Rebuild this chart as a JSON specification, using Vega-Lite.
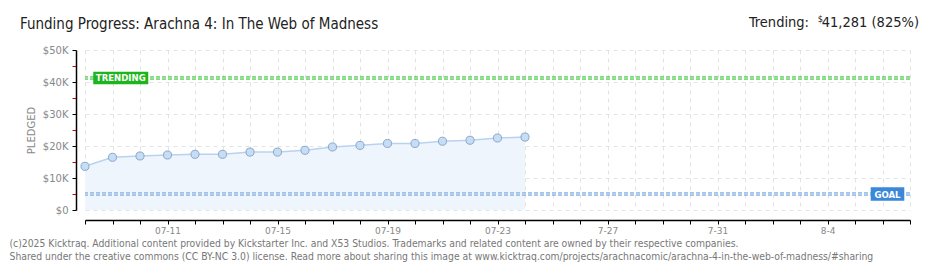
{
  "$schema": "https://vega.github.io/schema/vega-lite/v6.json",
  "width": 825,
  "height": 160,
  "autosize": {"type": "none"},
  "padding": {"left": 85, "top": 50, "right": 30, "bottom": 60},
  "background": "white",
  "config": {"view": {"stroke": null}, "font": "DejaVu Sans"},
  "datasets": {
    "pledges": [
      {"date": "2025-07-08", "pledged": 13650},
      {"date": "2025-07-09", "pledged": 16470},
      {"date": "2025-07-10", "pledged": 16880},
      {"date": "2025-07-11", "pledged": 17190},
      {"date": "2025-07-12", "pledged": 17400},
      {"date": "2025-07-13", "pledged": 17400},
      {"date": "2025-07-14", "pledged": 18100},
      {"date": "2025-07-15", "pledged": 18100},
      {"date": "2025-07-16", "pledged": 18660},
      {"date": "2025-07-17", "pledged": 19700},
      {"date": "2025-07-18", "pledged": 20200},
      {"date": "2025-07-19", "pledged": 20800},
      {"date": "2025-07-20", "pledged": 20800},
      {"date": "2025-07-21", "pledged": 21500},
      {"date": "2025-07-22", "pledged": 21800},
      {"date": "2025-07-23", "pledged": 22500},
      {"date": "2025-07-24", "pledged": 22800}
    ],
    "goal": [{"label": "GOAL", "pledged": 5000}],
    "trending": [{"label": "TRENDING", "pledged": 41281}],
    "heading": [{"title": "Funding Progress: Arachna 4: In The Web of Madness"}]
  },
  "layer": [
    {
      "data": {"name": "pledges"},
      "mark": {"type": "area", "color": "#eef5fd", "opacity": 1},
      "encoding": {
        "x": {
          "field": "date",
          "type": "temporal",
          "scale": {
            "type": "utc",
            "domain": [
              {"year": 2025, "month": 7, "date": 8, "utc": true},
              {"year": 2025, "month": 8, "date": 7, "utc": true}
            ]
          },
          "axis": {
            "title": [
              "(c)2025 Kicktraq. Additional content provided by Kickstarter Inc. and X53 Studios. Trademarks and related content are owned by their respective companies.",
              "Shared under the creative commons (CC BY-NC 3.0) license. Read more about sharing this image at www.kicktraq.com/projects/arachnacomic/arachna-4-in-the-web-of-madness/#sharing"
            ],
            "titleAnchor": "start",
            "titleAlign": "left",
            "titleBaseline": "alphabetic",
            "titleX": -76,
            "titleY": 26,
            "titleFont": "DejaVu Sans Condensed",
            "titleFontSize": 10.3,
            "titleFontWeight": "normal",
            "titleColor": "#777777",
            "titleLineHeight": 13,
            "offset": 10,
            "tickCount": {"interval": "day", "step": 1},
            "labelExpr": "(round((datum.value - utc(2025,6,8)) / 86400000) - 3) % 4 == 0 ? (datum.value < utc(2025,6,25) ? utcFormat(datum.value, '%m-%d') : utcFormat(datum.value, '%-m-%-d')) : ''",
            "labelOverlap": false,
            "labelFlush": false,
            "labelColor": "#888888",
            "labelFontSize": 9,
            "labelPadding": 2,
            "grid": true,
            "gridColor": "#e3e3e3",
            "gridDash": [4, 4],
            "domainColor": "#000000",
            "domainWidth": 1.5,
            "tickColor": "#000000",
            "tickSize": 4
          }
        },
        "y": {
          "field": "pledged",
          "type": "quantitative",
          "scale": {"domain": [0, 50000], "nice": false},
          "axis": {
            "title": "PLEDGED",
            "values": [0, 5000, 10000, 15000, 20000, 25000, 30000, 35000, 40000, 45000, 50000],
            "tickCount": 50,
            "labelExpr": "datum.value % 10000 == 0 ? (datum.value == 0 ? '$0' : '$' + (datum.value / 1000) + 'K') : ''",
            "labelOverlap": false,
            "offset": 9,
            "grid": true,
            "gridColor": "#e3e3e3",
            "gridDash": [4, 4],
            "gridOpacity": {"condition": {"test": "datum.value % 10000 != 0", "value": 0}, "value": 1},
            "tickColor": {"condition": {"test": "datum.value % 10000 != 0", "value": "#e00000"}, "value": "#000000"},
            "tickSize": 4,
            "domainColor": "#000000",
            "domainWidth": 1.5,
            "labelColor": "#888888",
            "labelFontSize": 10,
            "labelPadding": 4,
            "titleColor": "#888888",
            "titleFontSize": 10,
            "titleFontWeight": "normal",
            "titlePadding": 6
          }
        }
      }
    },
    {
      "data": {"name": "goal"},
      "mark": {"type": "rule", "color": "#8ab0de", "strokeWidth": 3.5, "strokeDash": [4, 2]},
      "encoding": {"y": {"field": "pledged", "type": "quantitative"}}
    },
    {
      "data": {"name": "goal"},
      "mark": {"type": "rule", "color": "#bcd6f4", "strokeWidth": 1.5, "strokeDash": [4, 2]},
      "encoding": {"y": {"field": "pledged", "type": "quantitative"}}
    },
    {
      "data": {"name": "trending"},
      "mark": {"type": "rule", "color": "#5fcc5f", "strokeWidth": 3.5, "strokeDash": [4, 2]},
      "encoding": {"y": {"field": "pledged", "type": "quantitative"}}
    },
    {
      "data": {"name": "trending"},
      "mark": {"type": "rule", "color": "#a6e8a6", "strokeWidth": 1.5, "strokeDash": [4, 2]},
      "encoding": {"y": {"field": "pledged", "type": "quantitative"}}
    },
    {
      "data": {"name": "pledges"},
      "mark": {"type": "line", "color": "#b8d3f0", "strokeWidth": 1.5},
      "encoding": {
        "x": {"field": "date", "type": "temporal"},
        "y": {"field": "pledged", "type": "quantitative"}
      }
    },
    {
      "data": {"name": "pledges"},
      "mark": {"type": "point", "filled": true, "fill": "#c6ddf6", "stroke": "#8ca6c8", "strokeWidth": 1, "size": 65, "opacity": 1},
      "encoding": {
        "x": {"field": "date", "type": "temporal"},
        "y": {"field": "pledged", "type": "quantitative"}
      }
    },
    {
      "data": {"name": "trending"},
      "mark": {"type": "point", "shape": "M-1,-0.227H1V0.227H-1Z", "size": 3025, "filled": true, "fill": "#1cb51c", "stroke": null, "opacity": 1},
      "encoding": {
        "x": {"datum": {"year": 2025, "month": 7, "date": 9, "hours": 7, "minutes": 12, "utc": true}, "type": "temporal"},
        "y": {"field": "pledged", "type": "quantitative"}
      }
    },
    {
      "data": {"name": "trending"},
      "mark": {"type": "text", "color": "white", "font": "DejaVu Sans Condensed", "fontWeight": "bold", "fontSize": 9.5, "baseline": "middle", "align": "center", "dy": 0.5},
      "encoding": {
        "x": {"datum": {"year": 2025, "month": 7, "date": 9, "hours": 7, "minutes": 12, "utc": true}, "type": "temporal"},
        "y": {"field": "pledged", "type": "quantitative"},
        "text": {"field": "label"}
      }
    },
    {
      "data": {"name": "goal"},
      "mark": {"type": "point", "shape": "M-1,-0.396H1V0.396H-1Z", "size": 1129, "filled": true, "fill": "#3b88d8", "stroke": null, "opacity": 1},
      "encoding": {
        "x": {"datum": {"year": 2025, "month": 8, "date": 6, "hours": 4, "minutes": 22, "utc": true}, "type": "temporal"},
        "y": {"field": "pledged", "type": "quantitative"}
      }
    },
    {
      "data": {"name": "goal"},
      "mark": {"type": "text", "color": "white", "font": "DejaVu Sans Condensed", "fontWeight": "bold", "fontSize": 9.5, "baseline": "middle", "align": "center", "dy": 0.5},
      "encoding": {
        "x": {"datum": {"year": 2025, "month": 8, "date": 6, "hours": 4, "minutes": 22, "utc": true}, "type": "temporal"},
        "y": {"field": "pledged", "type": "quantitative"},
        "text": {"field": "label"}
      }
    },
    {
      "data": {"name": "heading"},
      "mark": {"type": "text", "align": "left", "baseline": "alphabetic", "dx": -65, "font": "DejaVu Sans Condensed", "fontSize": 15, "color": "#222222"},
      "encoding": {
        "x": {"datum": {"year": 2025, "month": 7, "date": 8, "utc": true}, "type": "temporal"},
        "y": {"datum": 56560, "type": "quantitative"},
        "text": {"field": "title"}
      }
    },
    {
      "data": {"name": "trending"},
      "mark": {"type": "text", "align": "right", "baseline": "alphabetic", "dx": 9, "font": "DejaVu Sans Condensed", "fontSize": 14.5, "color": "#222222"},
      "encoding": {
        "x": {"datum": {"year": 2025, "month": 8, "date": 7, "utc": true}, "type": "temporal"},
        "y": {"datum": 57300, "type": "quantitative"},
        "text": {"value": "41,281 (825%)"}
      }
    },
    {
      "data": {"name": "trending"},
      "mark": {"type": "text", "align": "right", "baseline": "alphabetic", "dx": -87, "dy": -5, "font": "DejaVu Sans Condensed", "fontSize": 9, "color": "#222222"},
      "encoding": {
        "x": {"datum": {"year": 2025, "month": 8, "date": 7, "utc": true}, "type": "temporal"},
        "y": {"datum": 57300, "type": "quantitative"},
        "text": {"value": "$"}
      }
    },
    {
      "data": {"name": "trending"},
      "mark": {"type": "text", "align": "right", "baseline": "alphabetic", "dx": -101, "font": "DejaVu Sans Condensed", "fontSize": 14.5, "color": "#222222"},
      "encoding": {
        "x": {"datum": {"year": 2025, "month": 8, "date": 7, "utc": true}, "type": "temporal"},
        "y": {"datum": 57300, "type": "quantitative"},
        "text": {"value": "Trending:"}
      }
    }
  ]
}
